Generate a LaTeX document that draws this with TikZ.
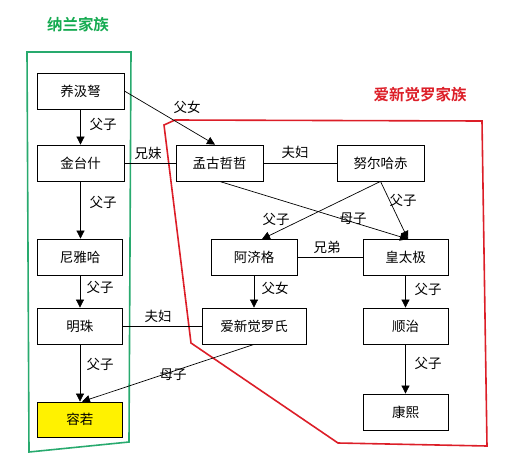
\documentclass[tikz,border=0pt]{standalone}
\usepackage{fontspec}
\setmainfont{Noto Sans CJK SC}[BoldFont={Noto Sans CJK SC Bold}]
\usetikzlibrary{arrows.meta}
\definecolor{nlgreen}{RGB}{40,170,110}
\definecolor{nltitle}{RGB}{20,170,80}
\definecolor{axred}{RGB}{220,30,40}
\begin{document}
\begin{tikzpicture}[x=1pt,y=-1pt,
  person/.style={draw,line width=0.8pt,fill=white,minimum width=86pt,minimum height=36pt,inner sep=0pt,font=\fontsize{13.5}{16}\selectfont},
  rel/.style={inner sep=0pt,font=\fontsize{13.5}{16}\selectfont},
  link/.style={line width=0.7pt},
  arr/.style={line width=0.7pt,-{Triangle[length=8pt,width=8pt]}},
  family/.style={line width=1.6pt}]
\useasboundingbox (0,0) rectangle (531,472);
% family outlines
\draw[family,nlgreen] (27,52) -- (131,52) -- (129,442) -- (29,452) -- cycle;
\draw[family,axred] (175,120) -- (482,121) -- (487,446) -- (338,443) -- (191,343) -- (164,125) -- cycle;
\node[font=\bfseries\fontsize{15.5}{18}\selectfont,text=nltitle] (tnl) at (78,25) {纳兰家族};
\node[font=\bfseries\fontsize{15.5}{18}\selectfont,text=axred] (tax) at (420,95) {爱新觉罗家族};
% people
\node[person,minimum width=87pt] (yang) at (80.5,91) {养汲弩};
\node[person,minimum width=87pt] (jin) at (80.5,163) {金台什};
\node[person,minimum width=85pt] (ni) at (80,257) {尼雅哈};
\node[person,minimum width=85pt] (ming) at (80,326) {明珠};
\node[person,minimum width=85pt,minimum height=35pt,fill=yellow] (rong) at (80,419.5) {容若};
\node[person,minimum width=87pt] (meng) at (219.5,163) {孟古哲哲};
\node[person,minimum width=87pt] (nu) at (380.5,163) {努尔哈赤};
\node[person] (aji) at (254,257.5) {阿济格};
\node[person,minimum width=85pt] (huang) at (405.5,257.5) {皇太极};
\node[person,minimum width=104pt] (aixin) at (254,326) {爱新觉罗氏};
\node[person,minimum width=85pt] (shun) at (405.5,326) {顺治};
\node[person,minimum width=85pt] (kang) at (405.5,412) {康熙};
% connectors
\draw[arr] (yang.east) -- ([xshift=-4.5pt]meng.north);
\draw[arr] (yang.south) -- (yang.south |- jin.north);
\draw[link] (jin.east) -- (meng.west);
\draw[arr] (jin.south) -- (jin.south |- ni.north);
\draw[link] (meng.east) -- (nu.west);
\draw[arr] (meng.south) -- ([xshift=2.5pt]huang.north);
\draw[arr] (nu.south) -- ([xshift=2.5pt]huang.north);
\draw[arr] (nu.south) -- ([xshift=8pt]aji.north);
\draw[link] (aji.east) -- (huang.west);
\draw[arr] (aji.south) -- (aji.south |- aixin.north);
\draw[arr] (huang.south) -- (shun.north);
\draw[arr] (shun.south) -- (kang.north);
\draw[arr] (ni.south) -- (ming.north);
\draw[arr] (ming.south) -- (rong.north);
\draw[link] (ming.east) -- (aixin.west);
\draw[arr] (aixin.south) -- ([xshift=2pt]rong.north);
% relation labels
\node[rel] (l1) at (187,107) {父女};
\node[rel] (l2) at (103,124) {父子};
\node[rel] (l3) at (148,153) {兄妹};
\node[rel] (l4) at (103,202) {父子};
\node[rel] (l5) at (295,152) {夫妇};
\node[rel] (l6) at (353,219) {母子};
\node[rel] (l7) at (403,200) {父子};
\node[rel] (l8) at (276,219) {父子};
\node[rel] (l9) at (327,247) {兄弟};
\node[rel] (l10) at (275,288) {父女};
\node[rel] (l11) at (428,289) {父子};
\node[rel] (l12) at (428,363) {父子};
\node[rel] (l13) at (100,287) {父子};
\node[rel] (l14) at (158,316) {夫妇};
\node[rel] (l15) at (100,364) {父子};
\node[rel] (l16) at (173,375) {母子};
\end{tikzpicture}
\end{document}
